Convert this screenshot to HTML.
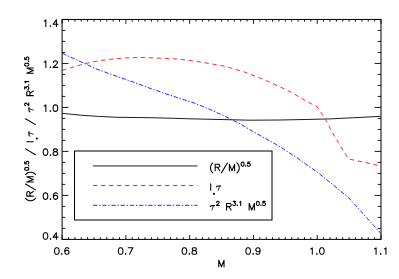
<!DOCTYPE html>
<html><head><meta charset="utf-8"><title>plot</title><style>
html,body{margin:0;padding:0;background:#fff;overflow:hidden;}
svg{display:block;font-family:"Liberation Sans",sans-serif;}
</style></head><body>
<svg width="399" height="279" viewBox="0 0 399 279">
<rect width="399" height="279" fill="#fff"/>
<polyline points="62.10,113.30 80.50,115.20 98.60,116.40 118.00,117.30 150.00,117.70 170.00,118.20 190.00,118.80 220.00,119.50 250.00,120.20 280.00,120.00 310.00,119.40 330.00,118.90 352.50,117.80 381.00,116.30" fill="none" stroke="#1a1a1a" stroke-width="0.98"/>
<polyline points="62.30,70.30 85.00,63.60 100.00,60.60 110.00,59.30 120.00,58.30 130.00,57.70 140.00,57.50 150.00,57.75 160.00,58.20 176.00,59.00 182.50,59.60 200.00,61.90 225.00,66.25 246.00,72.50 265.00,80.00 290.00,91.50 307.50,101.80 317.00,106.80 321.00,112.50 324.50,118.00 327.00,122.00 331.90,131.90 338.50,142.70 343.50,150.90 348.50,158.90 381.00,166.00" fill="none" stroke="#ff2424" stroke-width="0.98" stroke-dasharray="4.3 3.7"/>
<polyline points="62.30,53.30 85.00,63.70 95.00,68.50 110.00,73.90 125.00,79.20 140.00,84.50 150.00,88.30 165.00,93.50 180.00,98.50 195.00,103.30 208.60,108.90 225.00,116.25 240.00,123.75 252.50,131.25 275.00,143.80 280.00,146.80 295.00,156.50 310.00,167.10 317.60,172.30 328.10,180.90 332.60,184.40 348.90,198.00 381.00,233.60" fill="none" stroke="#2424ff" stroke-width="0.98" stroke-dasharray="4.4 1.7 1.4 1.7"/>
<rect x="62.1" y="19.45" width="318.9" height="219.95000000000002" fill="none" stroke="#000" stroke-width="1"/>
<path d="M62.10 239.4v-4.4M62.10 19.45v4.4M68.48 239.4v-2.2M68.48 19.45v2.2M74.86 239.4v-2.2M74.86 19.45v2.2M81.23 239.4v-2.2M81.23 19.45v2.2M87.61 239.4v-2.2M87.61 19.45v2.2M93.99 239.4v-2.2M93.99 19.45v2.2M100.37 239.4v-2.2M100.37 19.45v2.2M106.75 239.4v-2.2M106.75 19.45v2.2M113.12 239.4v-2.2M113.12 19.45v2.2M119.50 239.4v-2.2M119.50 19.45v2.2M125.88 239.4v-4.4M125.88 19.45v4.4M132.26 239.4v-2.2M132.26 19.45v2.2M138.64 239.4v-2.2M138.64 19.45v2.2M145.01 239.4v-2.2M145.01 19.45v2.2M151.39 239.4v-2.2M151.39 19.45v2.2M157.77 239.4v-2.2M157.77 19.45v2.2M164.15 239.4v-2.2M164.15 19.45v2.2M170.53 239.4v-2.2M170.53 19.45v2.2M176.90 239.4v-2.2M176.90 19.45v2.2M183.28 239.4v-2.2M183.28 19.45v2.2M189.66 239.4v-4.4M189.66 19.45v4.4M196.04 239.4v-2.2M196.04 19.45v2.2M202.42 239.4v-2.2M202.42 19.45v2.2M208.79 239.4v-2.2M208.79 19.45v2.2M215.17 239.4v-2.2M215.17 19.45v2.2M221.55 239.4v-2.2M221.55 19.45v2.2M227.93 239.4v-2.2M227.93 19.45v2.2M234.31 239.4v-2.2M234.31 19.45v2.2M240.68 239.4v-2.2M240.68 19.45v2.2M247.06 239.4v-2.2M247.06 19.45v2.2M253.44 239.4v-4.4M253.44 19.45v4.4M259.82 239.4v-2.2M259.82 19.45v2.2M266.20 239.4v-2.2M266.20 19.45v2.2M272.57 239.4v-2.2M272.57 19.45v2.2M278.95 239.4v-2.2M278.95 19.45v2.2M285.33 239.4v-2.2M285.33 19.45v2.2M291.71 239.4v-2.2M291.71 19.45v2.2M298.09 239.4v-2.2M298.09 19.45v2.2M304.46 239.4v-2.2M304.46 19.45v2.2M310.84 239.4v-2.2M310.84 19.45v2.2M317.22 239.4v-4.4M317.22 19.45v4.4M323.60 239.4v-2.2M323.60 19.45v2.2M329.98 239.4v-2.2M329.98 19.45v2.2M336.35 239.4v-2.2M336.35 19.45v2.2M342.73 239.4v-2.2M342.73 19.45v2.2M349.11 239.4v-2.2M349.11 19.45v2.2M355.49 239.4v-2.2M355.49 19.45v2.2M361.87 239.4v-2.2M361.87 19.45v2.2M368.24 239.4v-2.2M368.24 19.45v2.2M374.62 239.4v-2.2M374.62 19.45v2.2M381.00 239.4v-4.4M381.00 19.45v4.4M62.1 239.40h6.4M381.0 239.40h-6.4M62.1 228.40h3.2M381.0 228.40h-3.2M62.1 217.41h3.2M381.0 217.41h-3.2M62.1 206.41h3.2M381.0 206.41h-3.2M62.1 195.41h6.4M381.0 195.41h-6.4M62.1 184.41h3.2M381.0 184.41h-3.2M62.1 173.41h3.2M381.0 173.41h-3.2M62.1 162.42h3.2M381.0 162.42h-3.2M62.1 151.42h6.4M381.0 151.42h-6.4M62.1 140.42h3.2M381.0 140.42h-3.2M62.1 129.43h3.2M381.0 129.43h-3.2M62.1 118.43h3.2M381.0 118.43h-3.2M62.1 107.43h6.4M381.0 107.43h-6.4M62.1 96.43h3.2M381.0 96.43h-3.2M62.1 85.43h3.2M381.0 85.43h-3.2M62.1 74.44h3.2M381.0 74.44h-3.2M62.1 63.44h6.4M381.0 63.44h-6.4M62.1 52.44h3.2M381.0 52.44h-3.2M62.1 41.44h3.2M381.0 41.44h-3.2M62.1 30.45h3.2M381.0 30.45h-3.2M62.1 19.45h6.4M381.0 19.45h-6.4" stroke="#000" stroke-width="0.9" fill="none"/>
<rect x="74.5" y="151" width="197.5" height="69" fill="#fff" stroke="#000" stroke-width="1"/>
<path d="M93 165.95H197.5" stroke="#1a1a1a" stroke-width="0.98"/>
<path d="M93 185.5H197.5" stroke="#ff2424" stroke-width="0.98" stroke-dasharray="4.3 3.7"/>
<path d="M93 205.3H197.5" stroke="#2424ff" stroke-width="0.98" stroke-dasharray="4.4 1.7 1.4 1.7"/>
<path d="M45.17 232.79L44.18 233.10L43.52 234.03L43.19 235.58L43.19 236.51L43.52 238.06L44.18 238.99L45.17 239.30L45.83 239.30L46.82 238.99L47.48 238.06L47.81 236.51L47.81 235.58L47.48 234.03L46.82 233.10L45.83 232.79L45.17 232.79M50.45 238.68L50.12 238.99L50.45 239.30L50.78 238.99L50.45 238.68M56.39 232.79L53.09 237.13L58.04 237.13M56.39 232.79L56.39 239.30M45.17 192.85L44.18 193.16L43.52 194.09L43.19 195.64L43.19 196.57L43.52 198.12L44.18 199.05L45.17 199.36L45.83 199.36L46.82 199.05L47.48 198.12L47.81 196.57L47.81 195.64L47.48 194.09L46.82 193.16L45.83 192.85L45.17 192.85M50.45 198.74L50.12 199.05L50.45 199.36L50.78 199.05L50.45 198.74M57.38 193.78L57.05 193.16L56.06 192.85L55.40 192.85L54.41 193.16L53.75 194.09L53.42 195.64L53.42 197.19L53.75 198.43L54.41 199.05L55.40 199.36L55.73 199.36L56.72 199.05L57.38 198.43L57.71 197.50L57.71 197.19L57.38 196.26L56.72 195.64L55.73 195.33L55.40 195.33L54.41 195.64L53.75 196.26L53.42 197.19M45.17 148.86L44.18 149.17L43.52 150.10L43.19 151.65L43.19 152.58L43.52 154.13L44.18 155.06L45.17 155.37L45.83 155.37L46.82 155.06L47.48 154.13L47.81 152.58L47.81 151.65L47.48 150.10L46.82 149.17L45.83 148.86L45.17 148.86M50.45 154.75L50.12 155.06L50.45 155.37L50.78 155.06L50.45 154.75M54.74 148.86L53.75 149.17L53.42 149.79L53.42 150.41L53.75 151.03L54.41 151.34L55.73 151.65L56.72 151.96L57.38 152.58L57.71 153.20L57.71 154.13L57.38 154.75L57.05 155.06L56.06 155.37L54.74 155.37L53.75 155.06L53.42 154.75L53.09 154.13L53.09 153.20L53.42 152.58L54.08 151.96L55.07 151.65L56.39 151.34L57.05 151.03L57.38 150.41L57.38 149.79L57.05 149.17L56.06 148.86L54.74 148.86M44.18 106.11L44.84 105.80L45.83 104.87L45.83 111.38M50.45 110.76L50.12 111.07L50.45 111.38L50.78 111.07L50.45 110.76M55.07 104.87L54.08 105.18L53.42 106.11L53.09 107.66L53.09 108.59L53.42 110.14L54.08 111.07L55.07 111.38L55.73 111.38L56.72 111.07L57.38 110.14L57.71 108.59L57.71 107.66L57.38 106.11L56.72 105.18L55.73 104.87L55.07 104.87M44.18 62.12L44.84 61.81L45.83 60.88L45.83 67.39M50.45 66.77L50.12 67.08L50.45 67.39L50.78 67.08L50.45 66.77M53.42 62.43L53.42 62.12L53.75 61.50L54.08 61.19L54.74 60.88L56.06 60.88L56.72 61.19L57.05 61.50L57.38 62.12L57.38 62.74L57.05 63.36L56.39 64.29L53.09 67.39L57.71 67.39M44.18 21.13L44.84 20.82L45.83 19.89L45.83 26.40M50.45 25.78L50.12 26.09L50.45 26.40L50.78 26.09L50.45 25.78M56.39 19.89L53.09 24.23L58.04 24.23M56.39 19.89L56.39 26.40M56.52 247.79L55.53 248.10L54.87 249.03L54.54 250.58L54.54 251.51L54.87 253.06L55.53 253.99L56.52 254.30L57.18 254.30L58.17 253.99L58.83 253.06L59.16 251.51L59.16 250.58L58.83 249.03L58.17 248.10L57.18 247.79L56.52 247.79M61.80 253.68L61.47 253.99L61.80 254.30L62.13 253.99L61.80 253.68M68.73 248.72L68.40 248.10L67.41 247.79L66.75 247.79L65.76 248.10L65.10 249.03L64.77 250.58L64.77 252.13L65.10 253.37L65.76 253.99L66.75 254.30L67.08 254.30L68.07 253.99L68.73 253.37L69.06 252.44L69.06 252.13L68.73 251.20L68.07 250.58L67.08 250.27L66.75 250.27L65.76 250.58L65.10 251.20L64.77 252.13M120.30 247.79L119.31 248.10L118.65 249.03L118.32 250.58L118.32 251.51L118.65 253.06L119.31 253.99L120.30 254.30L120.96 254.30L121.95 253.99L122.61 253.06L122.94 251.51L122.94 250.58L122.61 249.03L121.95 248.10L120.96 247.79L120.30 247.79M125.58 253.68L125.25 253.99L125.58 254.30L125.91 253.99L125.58 253.68M132.84 247.79L129.54 254.30M128.22 247.79L132.84 247.79M184.08 247.79L183.09 248.10L182.43 249.03L182.10 250.58L182.10 251.51L182.43 253.06L183.09 253.99L184.08 254.30L184.74 254.30L185.73 253.99L186.39 253.06L186.72 251.51L186.72 250.58L186.39 249.03L185.73 248.10L184.74 247.79L184.08 247.79M189.36 253.68L189.03 253.99L189.36 254.30L189.69 253.99L189.36 253.68M193.65 247.79L192.66 248.10L192.33 248.72L192.33 249.34L192.66 249.96L193.32 250.27L194.64 250.58L195.63 250.89L196.29 251.51L196.62 252.13L196.62 253.06L196.29 253.68L195.96 253.99L194.97 254.30L193.65 254.30L192.66 253.99L192.33 253.68L192.00 253.06L192.00 252.13L192.33 251.51L192.99 250.89L193.98 250.58L195.30 250.27L195.96 249.96L196.29 249.34L196.29 248.72L195.96 248.10L194.97 247.79L193.65 247.79M247.86 247.79L246.87 248.10L246.21 249.03L245.88 250.58L245.88 251.51L246.21 253.06L246.87 253.99L247.86 254.30L248.52 254.30L249.51 253.99L250.17 253.06L250.50 251.51L250.50 250.58L250.17 249.03L249.51 248.10L248.52 247.79L247.86 247.79M253.14 253.68L252.81 253.99L253.14 254.30L253.47 253.99L253.14 253.68M260.07 249.96L259.74 250.89L259.08 251.51L258.09 251.82L257.76 251.82L256.77 251.51L256.11 250.89L255.78 249.96L255.78 249.65L256.11 248.72L256.77 248.10L257.76 247.79L258.09 247.79L259.08 248.10L259.74 248.72L260.07 249.96L260.07 251.51L259.74 253.06L259.08 253.99L258.09 254.30L257.43 254.30L256.44 253.99L256.11 253.37M310.65 249.03L311.31 248.72L312.30 247.79L312.30 254.30M316.92 253.68L316.59 253.99L316.92 254.30L317.25 253.99L316.92 253.68M321.54 247.79L320.55 248.10L319.89 249.03L319.56 250.58L319.56 251.51L319.89 253.06L320.55 253.99L321.54 254.30L322.20 254.30L323.19 253.99L323.85 253.06L324.18 251.51L324.18 250.58L323.85 249.03L323.19 248.10L322.20 247.79L321.54 247.79M374.43 249.03L375.09 248.72L376.08 247.79L376.08 254.30M380.70 253.68L380.37 253.99L380.70 254.30L381.03 253.99L380.70 253.68M384.33 249.03L384.99 248.72L385.98 247.79L385.98 254.30M218.76 260.19L218.76 266.70M218.76 260.19L221.40 266.70M224.04 260.19L221.40 266.70M224.04 260.19L224.04 266.70M212.83 162.95L212.17 163.57L211.51 164.50L210.85 165.74L210.52 167.29L210.52 168.53L210.85 170.08L211.51 171.32L212.17 172.25L212.83 172.87M215.14 164.19L215.14 170.70M215.14 164.19L218.11 164.19L219.10 164.50L219.43 164.81L219.76 165.43L219.76 166.05L219.43 166.67L219.10 166.98L218.11 167.29L215.14 167.29M217.45 167.29L219.76 170.70M227.35 162.95L221.41 172.87M229.33 164.19L229.33 170.70M229.33 164.19L231.97 170.70M234.61 164.19L231.97 170.70M234.61 164.19L234.61 170.70M236.92 162.95L237.58 163.57L238.24 164.50L238.90 165.74L239.23 167.29L239.23 168.53L238.90 170.08L238.24 171.32L237.58 172.25L236.92 172.87M242.42 162.10L241.80 162.30L241.38 162.88L241.17 163.86L241.17 164.45L241.38 165.42L241.80 166.01L242.42 166.20L242.84 166.20L243.46 166.01L243.88 165.42L244.08 164.45L244.08 163.86L243.88 162.88L243.46 162.30L242.84 162.10L242.42 162.10M245.75 165.81L245.54 166.01L245.75 166.20L245.96 166.01L245.75 165.81M249.91 162.10L247.83 162.10L247.62 163.86L247.83 163.67L248.45 163.47L249.07 163.47L249.70 163.67L250.11 164.06L250.32 164.64L250.32 165.03L250.11 165.62L249.70 166.01L249.07 166.20L248.45 166.20L247.83 166.01L247.62 165.81L247.41 165.42M210.72 183.79L210.72 190.30M213.90 193.63L213.70 193.82L213.90 194.02L214.11 193.82L213.90 193.63M216.40 186.89L216.89 186.27L217.72 185.96L220.85 185.96M210.19 206.59L210.69 205.97L211.51 205.66L214.64 205.66M216.63 202.38L216.63 202.18L216.84 201.79L217.05 201.60L217.46 201.40L218.29 201.40L218.71 201.60L218.92 201.79L219.13 202.18L219.13 202.58L218.92 202.97L218.50 203.55L216.42 205.50L219.33 205.50M226.56 203.49L226.56 210.00M226.56 203.49L229.53 203.49L230.52 203.80L230.85 204.11L231.18 204.73L231.18 205.35L230.85 205.97L230.52 206.28L229.53 206.59L226.56 206.59M228.87 206.59L231.18 210.00M233.21 201.40L235.49 201.40L234.25 202.97L234.87 202.97L235.29 203.16L235.49 203.36L235.70 203.94L235.70 204.33L235.49 204.92L235.08 205.31L234.45 205.50L233.83 205.50L233.21 205.31L233.00 205.11L232.79 204.72M237.37 205.11L237.16 205.31L237.37 205.50L237.57 205.31L237.37 205.11M239.65 202.18L240.07 201.99L240.69 201.40L240.69 205.50M249.16 203.49L249.16 210.00M249.16 203.49L251.80 210.00M254.44 203.49L251.80 210.00M254.44 203.49L254.44 210.00M257.63 201.40L257.01 201.60L256.59 202.18L256.39 203.16L256.39 203.75L256.59 204.72L257.01 205.31L257.63 205.50L258.05 205.50L258.67 205.31L259.09 204.72L259.30 203.75L259.30 203.16L259.09 202.18L258.67 201.60L258.05 201.40L257.63 201.40M260.96 205.11L260.75 205.31L260.96 205.50L261.17 205.31L260.96 205.11M265.12 201.40L263.04 201.40L262.83 203.16L263.04 202.97L263.66 202.77L264.29 202.77L264.91 202.97L265.33 203.36L265.53 203.94L265.53 204.33L265.33 204.92L264.91 205.31L264.29 205.50L263.66 205.50L263.04 205.31L262.83 205.11L262.62 204.72M25.55 198.41L26.17 199.06L27.10 199.72L28.34 200.37L29.89 200.70L31.13 200.70L32.68 200.37L33.92 199.72L34.85 199.06L35.47 198.41M26.79 196.12L33.30 196.12M26.79 196.12L26.79 193.18L27.10 192.20L27.41 191.87L28.03 191.54L28.65 191.54L29.27 191.87L29.58 192.20L29.89 193.18L29.89 196.12M29.89 193.83L33.30 191.54M25.55 184.02L35.47 189.91M26.79 182.06L33.30 182.06M26.79 182.06L33.30 179.44M26.79 176.83L33.30 179.44M26.79 176.83L33.30 176.83M25.55 174.54L26.17 173.88L27.10 173.23L28.34 172.58L29.89 172.25L31.13 172.25L32.68 172.58L33.92 173.23L34.85 173.88L35.47 174.54M24.70 169.09L24.90 169.71L25.48 170.12L26.46 170.32L27.05 170.32L28.02 170.12L28.61 169.71L28.80 169.09L28.80 168.68L28.61 168.06L28.02 167.65L27.05 167.44L26.46 167.44L25.48 167.65L24.90 168.06L24.70 168.68L24.70 169.09M28.41 165.79L28.61 166.00L28.80 165.79L28.61 165.59L28.41 165.79M24.70 161.67L24.70 163.73L26.46 163.94L26.27 163.73L26.07 163.11L26.07 162.50L26.27 161.88L26.66 161.47L27.24 161.26L27.63 161.26L28.22 161.47L28.61 161.88L28.80 162.50L28.80 163.11L28.61 163.73L28.41 163.94L28.02 164.14M25.55 148.87L35.47 154.76M26.79 141.68L33.30 141.68M36.63 138.52L36.82 138.73L37.02 138.52L36.82 138.31L36.63 138.52M29.89 136.05L29.27 135.56L28.96 134.74L28.96 131.64M25.55 118.72L35.47 124.61M29.89 111.85L29.27 111.36L28.96 110.54L28.96 107.44M25.68 105.47L25.48 105.47L25.09 105.26L24.90 105.06L24.70 104.65L24.70 103.82L24.90 103.41L25.09 103.20L25.48 103.00L25.88 103.00L26.27 103.20L26.85 103.62L28.80 105.68L28.80 102.79M26.79 95.63L33.30 95.63M26.79 95.63L26.79 92.69L27.10 91.71L27.41 91.38L28.03 91.06L28.65 91.06L29.27 91.38L29.58 91.71L29.89 92.69L29.89 95.63M29.89 93.34L33.30 91.06M24.70 89.04L24.70 86.78L26.27 88.01L26.27 87.40L26.46 86.98L26.66 86.78L27.24 86.57L27.63 86.57L28.22 86.78L28.61 87.19L28.80 87.81L28.80 88.43L28.61 89.04L28.41 89.25L28.02 89.46M28.41 84.92L28.61 85.13L28.80 84.92L28.61 84.72L28.41 84.92M25.48 82.66L25.29 82.25L24.70 81.63L28.80 81.63M26.79 73.23L33.30 73.23M26.79 73.23L33.30 70.62M26.79 68.00L33.30 70.62M26.79 68.00L33.30 68.00M24.70 64.84L24.90 65.46L25.48 65.87L26.46 66.08L27.05 66.08L28.02 65.87L28.61 65.46L28.80 64.84L28.80 64.43L28.61 63.81L28.02 63.40L27.05 63.19L26.46 63.19L25.48 63.40L24.90 63.81L24.70 64.43L24.70 64.84M28.41 61.54L28.61 61.75L28.80 61.54L28.61 61.34L28.41 61.54M24.70 57.42L24.70 59.48L26.46 59.69L26.27 59.48L26.07 58.87L26.07 58.25L26.27 57.63L26.66 57.22L27.24 57.01L27.63 57.01L28.22 57.22L28.61 57.63L28.80 58.25L28.80 58.87L28.61 59.48L28.41 59.69L28.02 59.90" fill="none" stroke="#000" stroke-width="1.08" stroke-linecap="round" stroke-linejoin="round"/>
<path d="M219.60 185.96L218.21 190.30M213.39 205.66L212.00 210.00M28.96 132.88L33.30 134.25M28.96 108.68L33.30 110.05" fill="none" stroke="#000" stroke-width="0.8" stroke-linecap="round"/>
<circle cx="213.90" cy="193.82" r="0.95" fill="#000"/>
<circle cx="36.82" cy="138.52" r="0.95" fill="#000"/>
</svg>
</body></html>
